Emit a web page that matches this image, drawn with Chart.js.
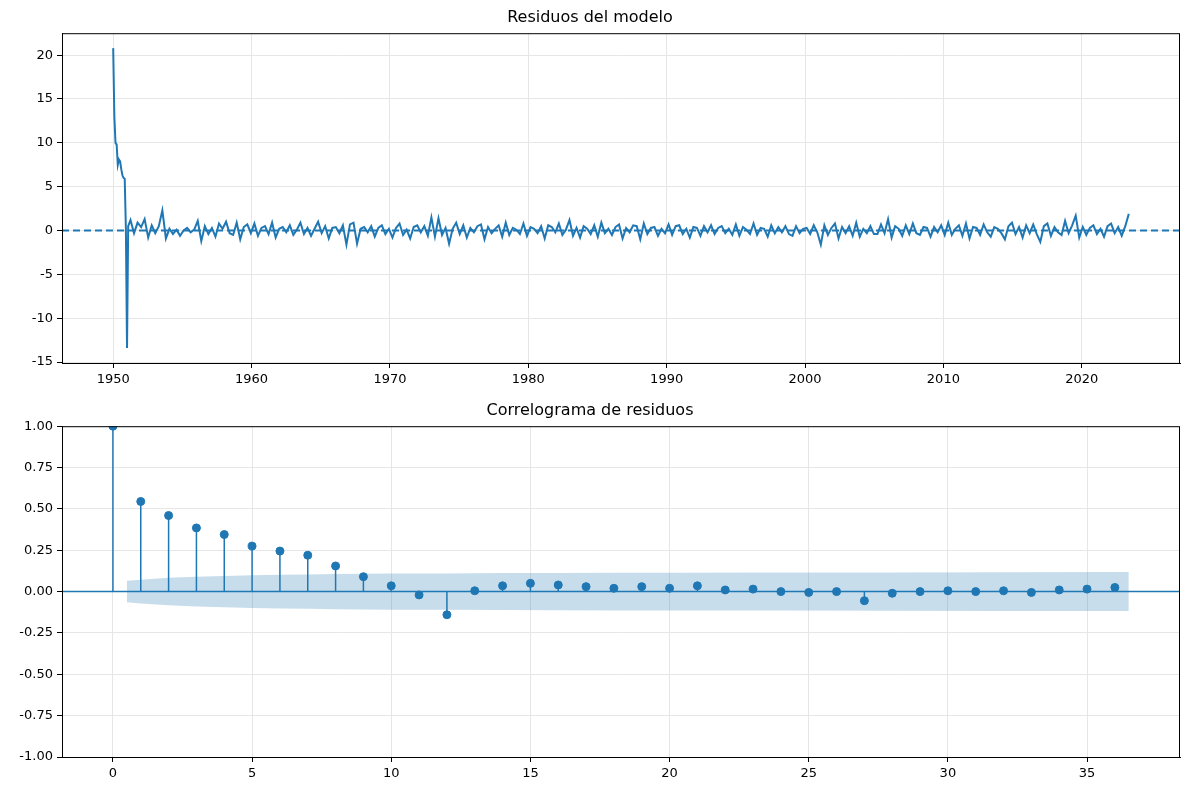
<!DOCTYPE html>
<html><head><meta charset="utf-8">
<script src="https://cdn.jsdelivr.net/npm/chart.js@4/dist/chart.umd.min.js"></script>
<style>
body{margin:0;background:#fff;font-family:"DejaVu Sans",sans-serif}
.c{position:absolute;left:0;width:1190px}
</style></head><body>
<div class="c" style="top:0;height:395px"><canvas id="a"></canvas></div>
<div class="c" style="top:392px;height:398px"><canvas id="b"></canvas></div>
<script>
// monthly residuals for 1950 (start of series)
const earlyYears = [1950.0,1950.083,1950.167,1950.25,1950.333,1950.417,1950.5,1950.583,1950.667,1950.75,1950.833,1950.917,1951.0,1951.083];
const earlyResid = [20.8,13.0,10.0,9.8,7.5,8.1,7.9,7.0,6.3,6.0,5.9,0.2,-13.4,0.5];
// regular residual readings from qStart to qEnd
const qStart = 1951.25, qEnd = 2023.4;
const quarterResid = [
 1.2,-0.3,0.9,
 0.4,1.3,-0.8,0.6,
 -0.3,0.5,2.3,-0.9,
 0.2,-0.4,0.1,-0.6,
 0.0,0.3,-0.2,0.1,
 1.1,-1.2,0.5,-0.4,
 0.3,-0.7,0.8,0.2,
 1.0,-0.3,-0.5,0.9,
 -1.0,0.4,0.7,-0.3,
 0.8,-0.6,0.3,0.5,
 -0.4,0.9,-0.8,0.2,
 0.4,-0.2,0.6,-0.5,
 0.1,0.9,-0.4,0.3,
 -0.6,0.2,1.0,-0.3,
 0.5,-0.9,0.3,0.4,
 -0.3,0.6,-1.6,0.7,
 0.9,-1.5,0.2,0.4,
 -0.2,0.5,-0.7,0.3,
 0.6,-0.4,0.2,-0.8,
 0.3,0.8,-0.5,0.1,
 -0.9,0.4,0.6,-0.2,
 0.5,-0.6,1.5,-0.7,
 1.4,-0.5,0.3,-1.5,
 0.2,0.9,-0.4,0.6,
 -0.8,0.3,-0.2,0.5,
 0.7,-1.0,0.4,-0.3,
 0.2,0.6,-0.7,0.9,
 -0.5,0.3,0.1,-0.4,
 0.8,-0.6,0.4,0.2,
 -0.3,0.5,-0.9,0.6,
 0.4,-0.2,0.8,-0.5,
 0.1,1.2,-0.6,0.3,
 -0.8,0.5,0.2,-0.4,
 0.6,-0.7,0.9,-0.3,
 0.2,-0.5,0.4,0.7,
 -0.9,0.3,-0.2,0.6,
 0.5,-1.0,0.8,-0.4,
 0.3,0.4,-0.6,0.2,
 -0.3,0.7,-0.5,0.5,
 0.6,-0.4,0.2,-0.8,
 0.4,0.3,-0.6,0.5,
 -0.2,0.6,-0.4,0.3,
 0.5,-0.3,0.2,-0.5,
 0.7,-0.6,0.4,0.1,
 -0.4,0.8,-0.5,0.3,
 0.2,-0.7,0.6,-0.3,
 0.4,-0.2,0.5,-0.4,
 -0.6,0.5,-0.3,0.2,
 0.3,-0.4,0.6,-0.2,
 -1.6,0.6,-0.5,0.3,
 0.8,-0.9,0.4,-0.3,
 0.5,-0.6,0.9,-0.7,
 0.2,-0.3,0.5,-0.4,
 -0.4,0.7,-0.3,1.3,
 -0.8,0.5,0.2,-0.6,
 0.6,-0.4,0.8,-0.3,
 -0.5,0.4,0.3,-0.7,
 0.4,-0.2,0.6,-0.5,
 0.9,-0.5,0.2,0.6,
 -0.6,0.8,-0.9,0.4,
 0.3,-0.5,0.7,-0.2,
 -0.7,0.4,0.2,-0.3,
 -1.0,0.5,0.9,-0.4,
 0.4,-0.8,0.6,-0.3,
 0.7,-0.4,-1.3,0.5,
 0.8,-0.6,0.4,-0.2,
 -0.5,1.1,-0.3,0.6,
 1.7,-0.8,0.4,-0.5,
 0.3,0.6,-0.4,0.2,
 -0.7,0.5,0.8,-0.3,
 0.4,-0.6,0.5,1.9
];
// correlogram values
const lags = [0,1,2,3,4,5,6,7,8,9,10,11,12,13,14,15,16,17,18,19,20,21,22,23,24,25,26,27,28,29,30,31,32,33,34,35,36];
const acf = [1,0.545,0.46,0.385,0.345,0.275,0.245,0.22,0.155,0.09,0.035,-0.02,-0.14,0.005,0.035,0.05,0.04,0.03,0.02,0.03,0.02,0.035,0.01,0.015,0.0,-0.005,0.0,-0.055,-0.01,0.0,0.005,0.0,0.005,-0.005,0.01,0.015,0.025];
const bandLags = [0.5,1,2,3,4,5,6,7,8,9,10,12,14,16,18,20,24,28,32,36,36.5];
const bandHalf = [0.065,0.072,0.083,0.09,0.095,0.099,0.102,0.104,0.106,0.108,0.109,0.11,0.112,0.113,0.114,0.114,0.115,0.116,0.117,0.118,0.118];

const BLUE='#1f77b4', GRID='#e6e6e6';
const tickFont={family:'DejaVu Sans',size:13};
function axisBase(){return {border:{color:'#000',width:1},grid:{color:GRID,tickColor:'#000',tickLength:5},ticks:{color:'#000',font:tickFont,padding:4}};}
const frame={id:'frame',afterDraw(c){const a=c.chartArea,x=c.ctx;x.save();x.strokeStyle='#000';x.lineWidth=1;x.strokeRect(a.left+0.5,a.top+0.5,a.right-a.left-1,a.bottom-a.top);x.restore();}};

const resid=[];
earlyYears.forEach((x,i)=>resid.push({x,y:earlyResid[i]}));
const step=(qEnd-qStart)/(quarterResid.length-1);
quarterResid.forEach((v,i)=>resid.push({x:qStart+i*step,y:v}));

new Chart(document.getElementById('a'),{type:'scatter',plugins:[frame],
 data:{datasets:[
  {data:[{x:1946.3,y:0},{x:2027.1,y:0}],showLine:true,borderColor:BLUE,borderWidth:2,borderDash:[7,4],pointRadius:0},
  {data:resid,showLine:true,borderColor:BLUE,borderWidth:2,pointRadius:0,tension:0}
 ]},
 options:{responsive:true,maintainAspectRatio:false,animation:false,
  layout:{padding:{left:0,right:10}},
  plugins:{legend:{display:false},tooltip:{enabled:false},
   title:{display:true,text:'Residuos del modelo',color:'#000',font:{family:'DejaVu Sans',size:16,weight:'normal'},padding:{top:8,bottom:6}}},
  scales:{
   x:Object.assign(axisBase(),{type:'linear',min:1946.3,max:2027.1,afterBuildTicks(s){s.ticks=[1950,1960,1970,1980,1990,2000,2010,2020].map(v=>({value:v}));},afterFit(s){s.height=32;},ticks:{color:'#000',font:tickFont,padding:4,callback:v=>String(v)}}),
   y:Object.assign(axisBase(),{min:-15.1,max:22.5,afterBuildTicks(s){s.ticks=[-15,-10,-5,0,5,10,15,20].map(v=>({value:v}));},afterFit(s){s.width=62;}})
  }}});

const stems=[];
lags.forEach((l,i)=>{stems.push({x:l,y:0},{x:l,y:acf[i]},{x:l,y:null});});
new Chart(document.getElementById('b'),{type:'scatter',plugins:[frame],
 data:{datasets:[
  {data:bandLags.map((l,i)=>({x:l,y:-bandHalf[i]})),showLine:true,borderWidth:0,pointRadius:0,fill:false,backgroundColor:'rgba(31,119,180,0.25)'},
  {data:bandLags.map((l,i)=>({x:l,y:bandHalf[i]})),showLine:true,borderWidth:0,pointRadius:0,fill:'-1',backgroundColor:'rgba(31,119,180,0.25)'},
  {data:[{x:-1.83,y:0},{x:38.34,y:0}],showLine:true,borderColor:BLUE,borderWidth:1.5,pointRadius:0},
  {data:stems,showLine:true,spanGaps:false,borderColor:BLUE,borderWidth:1.5,pointRadius:0},
  {data:lags.map((l,i)=>({x:l,y:acf[i]})),pointRadius:4,pointBackgroundColor:BLUE,pointBorderColor:BLUE}
 ]},
 options:{responsive:true,maintainAspectRatio:false,animation:false,
  layout:{padding:{left:0,right:10}},
  plugins:{legend:{display:false},tooltip:{enabled:false},
   title:{display:true,text:'Correlograma de residuos',color:'#000',font:{family:'DejaVu Sans',size:16,weight:'normal'},padding:{top:9,bottom:6}}},
  scales:{
   x:Object.assign(axisBase(),{type:'linear',min:-1.83,max:38.34,afterBuildTicks(s){s.ticks=[0,5,10,15,20,25,30,35].map(v=>({value:v}));},afterFit(s){s.height=33;}}),
   y:Object.assign(axisBase(),{min:-1,max:1,afterBuildTicks(s){s.ticks=[-1,-0.75,-0.5,-0.25,0,0.25,0.5,0.75,1].map(v=>({value:v}));},afterFit(s){s.width=62;},ticks:{color:'#000',font:tickFont,padding:4,callback:v=>Number(v).toFixed(2)}})
  }}});
</script></body></html>
